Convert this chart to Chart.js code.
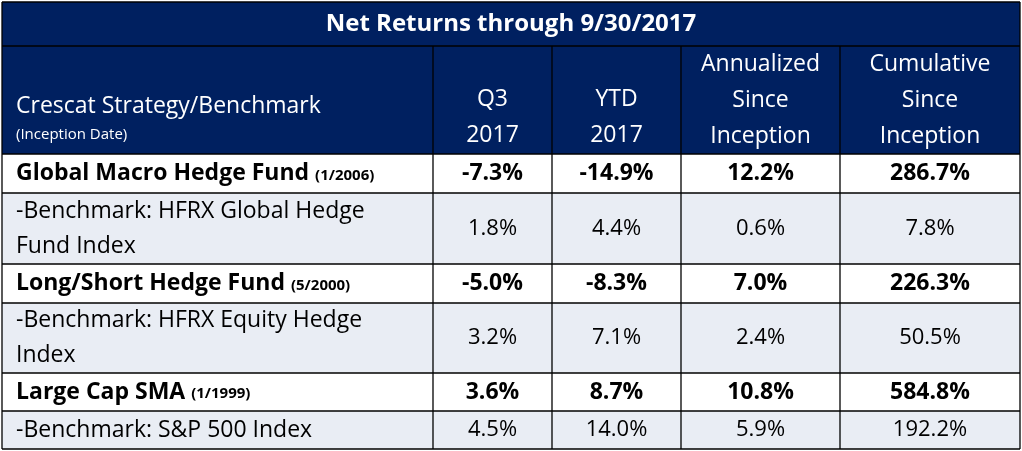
<!DOCTYPE html>
<html>
<head>
<meta charset="utf-8">
<script src="https://cdn.jsdelivr.net/npm/chart.js@4"></script>
<style>
  html, body { margin: 0; padding: 0; background: #fff; }
  #wrap { width: 1022px; height: 451px; }
</style>
</head>
<body>
<div id="wrap"><canvas id="tabla"></canvas></div>
<script>
// Datos de la tabla
const title = 'Net Returns through 9/30/2017';
const headers = [['Crescat Strategy/Benchmark'], ['Q3', '2017'], ['YTD', '2017'],
  ['Annualized', 'Since', 'Inception'], ['Cumulative', 'Since', 'Inception']];
const names = [['Global Macro Hedge Fund'], ['-Benchmark: HFRX Global Hedge', 'Fund Index'],
  ['Long/Short Hedge Fund'], ['-Benchmark: HFRX Equity Hedge', 'Index'],
  ['Large Cap SMA'], ['-Benchmark: S&P 500 Index']];
const inception = ['(1/2006)', '', '(5/2000)', '', '(1/1999)', ''];
const q3 = ['-7.3%', '1.8%', '-5.0%', '3.2%', '3.6%', '4.5%'];
const ytd = ['-14.9%', '4.4%', '-8.3%', '7.1%', '8.7%', '14.0%'];
const annualized = ['12.2%', '0.6%', '7.0%', '2.4%', '10.8%', '5.9%'];
const cumulative = ['286.7%', '7.8%', '226.3%', '50.5%', '584.8%', '192.2%'];

const colEdges = [2, 433, 552, 681, 840, 1020];
const rowEdges = [2, 46, 154, 193, 264, 303, 373, 411, 449];

const FONT = '"Open Sans", sans-serif';

const tablePlugin = {
  id: 'tabla',
  afterDraw(chart) {
    const ctx = chart.ctx;
    const xs = chart.scales.x, ys = chart.scales.y;
    const X = v => xs.getPixelForValue(v);
    const Y = v => ys.getPixelForValue(v);
    ctx.save();
    ctx.fillStyle = '#002060';
    ctx.fillRect(X(colEdges[0]), Y(rowEdges[0]), X(colEdges[5]) - X(colEdges[0]), Y(rowEdges[2]) - Y(rowEdges[0]));
    for (let r = 0; r < names.length; r++) {
      ctx.fillStyle = r % 2 ? '#E9EDF4' : '#FFFFFF';
      ctx.fillRect(X(colEdges[0]), Y(rowEdges[r + 2]), X(colEdges[5]) - X(colEdges[0]), Y(rowEdges[r + 3]) - Y(rowEdges[r + 2]));
    }
    ctx.strokeStyle = '#000';
    ctx.lineWidth = 1.3;
    for (let i = 0; i < rowEdges.length; i++) {
      ctx.beginPath();
      ctx.moveTo(X(colEdges[0]), Y(rowEdges[i]));
      ctx.lineTo(X(colEdges[5]), Y(rowEdges[i]));
      ctx.stroke();
    }
    for (let j = 0; j < colEdges.length; j++) {
      ctx.beginPath();
      ctx.moveTo(X(colEdges[j]), Y(j === 0 || j === 5 ? rowEdges[0] : rowEdges[1]));
      ctx.lineTo(X(colEdges[j]), Y(rowEdges[8]));
      ctx.stroke();
    }
    ctx.textBaseline = 'middle';
    ctx.fillStyle = '#fff';
    ctx.textAlign = 'center';
    ctx.font = 'bold 24px ' + FONT;
    ctx.fillText(title, (X(colEdges[0]) + X(colEdges[5])) / 2, (Y(rowEdges[0]) + Y(rowEdges[1])) / 2);
    ctx.font = '23px ' + FONT;
    const hTop = Y(rowEdges[1]), hBot = Y(rowEdges[2]);
    for (let j = 1; j < 5; j++) {
      const lines = headers[j];
      const cx = (X(colEdges[j]) + X(colEdges[j + 1])) / 2;
      const lh = 36, start = (hTop + hBot) / 2 - (lines.length - 1) * lh / 2 + (lines.length === 2 ? 17 : 0);
      lines.forEach((t, k) => ctx.fillText(t, cx, start + k * lh));
    }
    ctx.textAlign = 'left';
    ctx.fillText(headers[0][0], X(colEdges[0]) + 14, 106);
    ctx.font = '15px ' + FONT;
    ctx.fillText('(Inception Date)', X(colEdges[0]) + 14, 135);
    const cols = [q3, ytd, annualized, cumulative];
    for (let r = 0; r < names.length; r++) {
      const bold = r % 2 === 0;
      const top = Y(rowEdges[r + 2]), bot = Y(rowEdges[r + 3]);
      const cy = (top + bot) / 2;
      ctx.fillStyle = '#000';
      ctx.textAlign = 'left';
      const lines = names[r];
      const lh = 35;
      const x0 = X(colEdges[0]) + 14;
      ctx.font = (bold ? 'bold 23px ' : '23px ') + FONT;
      lines.forEach((t, k) => ctx.fillText(t, x0, cy - (lines.length - 1) * lh / 2 + k * lh));
      if (inception[r]) {
        const w = ctx.measureText(lines[0] + ' ').width;
        ctx.font = 'bold 15px ' + FONT;
        ctx.fillText(inception[r], x0 + w, cy + 2);
      }
      ctx.textAlign = 'center';
      ctx.font = (bold ? 'bold 23px ' : '22px ') + FONT;
      cols.forEach((c, j) => {
        ctx.fillText(c[r], (X(colEdges[j + 1]) + X(colEdges[j + 2])) / 2, cy);
      });
    }
    ctx.restore();
  }
};

new Chart(document.getElementById('tabla'), {
  type: 'scatter',
  data: { datasets: [{ data: [] }] },
  options: {
    responsive: true,
    maintainAspectRatio: false,
    animation: false,
    layout: { padding: 0 },
    plugins: { legend: { display: false }, tooltip: { enabled: false } },
    scales: {
      x: { type: 'linear', min: 0, max: 1022, display: false },
      y: { type: 'linear', min: 0, max: 451, reverse: true, display: false }
    }
  },
  plugins: [tablePlugin]
});
</script>
</body>
</html>
